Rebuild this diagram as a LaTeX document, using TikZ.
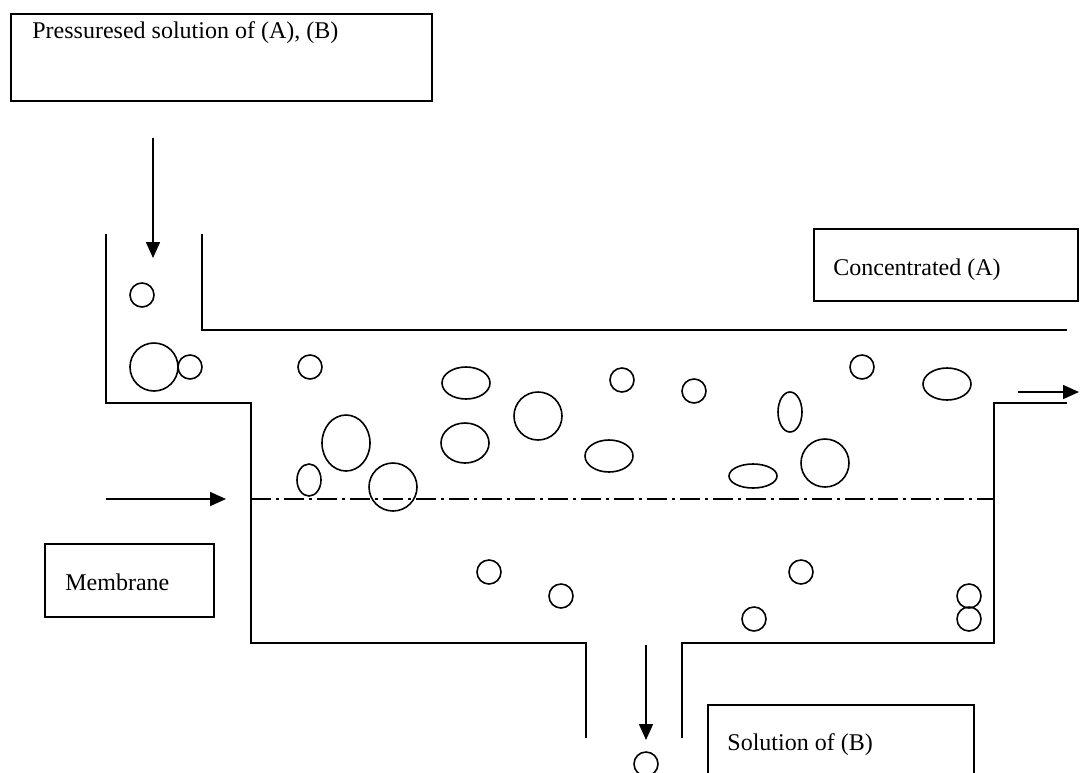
\documentclass[tikz,border=0pt]{standalone}
\usepackage{fontspec}
\setmainfont{Liberation Serif}
\usetikzlibrary{positioning, arrows.meta}

\begin{document}
\begin{tikzpicture}[
        x=0.5pt, y=-0.5pt,
        wall/.style={line width=0.9pt, black},
        labelbox/.style={rectangle, draw, line width=0.9pt, inner sep=0pt, anchor=north west},
        labeltext/.style={anchor=base west, inner sep=0pt, font=\fontsize{12}{14}\selectfont},
        flow/.style={-{Triangle[length=8pt, width=7pt]}, line width=0.8pt},
        membrane/.style={line width=0.9pt, dash pattern=on 10pt off 2.5pt on 1.5pt off 2.5pt},
        particle/.style={line width=0.8pt}
    ]
        \useasboundingbox (0,0) rectangle (1080,772);

        % Label boxes
        \node[labelbox, minimum width=210.5pt, minimum height=43.5pt] (feedbox) at (10,13) {};
        \node[labeltext] (feedtext) at (32,38) {Pressuresed solution of (A), (B)};
        \node[labelbox, minimum width=132pt, minimum height=36pt] (concbox) at (813,228) {};
        \node[labeltext] (conctext) at (833,275) {Concentrated (A)};
        \node[labelbox, minimum width=84.5pt, minimum height=36.5pt] (membox) at (44,543) {};
        \node[labeltext] (memtext) at (65,590) {Membrane};
        \node[labelbox, minimum width=133pt, minimum height=45pt] (permbox) at (707,704) {};
        \node[labeltext] (permtext) at (727,750) {Solution of (B)};

        % Vessel walls
        \draw[wall] (202,234) -- (202,330) -- (1067,330);
        \draw[wall] (106,234) -- (106,403) -- (251,403) -- (251,643) -- (586,643) -- (586,738);
        \draw[wall] (682,738) -- (682,643) -- (994,643) -- (994,403) -- (1067,403);

        % Membrane
        \draw[membrane] (251,499) -- (994,499);

        % Flow arrows
        \coordinate (feedstart) at (153,138);
        \coordinate (feedend) at (153,258);
        \coordinate (memstart) at (106,499);
        \coordinate (memend) at (226,499);
        \coordinate (concstart) at (1018,392);
        \coordinate (concend) at (1079,392);
        \coordinate (permstart) at (646,645);
        \coordinate (permend) at (646,740);
        \draw[flow] (feedstart) -- (feedend);
        \draw[flow] (memstart) -- (memend);
        \draw[flow] (concstart) -- (concend);
        \draw[flow] (permstart) -- (permend);

        % Particles (A) and (B)
        \foreach \px/\py/\rx/\ry in {142/295/6/6, 154/367/12/12, 190/367/6/6, 310/367/6/6,
                466/383/12/8, 346/443/12/14, 465/443/12/10, 309/480/6/8, 393/487/12/12,
                538/416/12/12, 622/380/6/6, 694/391/6/6, 609/456/12/8, 753/476/12/6,
                862/367/6/6, 947/384/12/8, 790/412/6/10, 825/463/12/12,
                489/572/6/6, 561/596/6/6, 801/572/6/6, 754/619/6/6,
                969/596/6/6, 969/619/6/6, 646/764/6/6}
            \draw[particle] (\px,\py) ellipse [x radius=\rx pt, y radius=\ry pt];
    \end{tikzpicture}
\end{document}
